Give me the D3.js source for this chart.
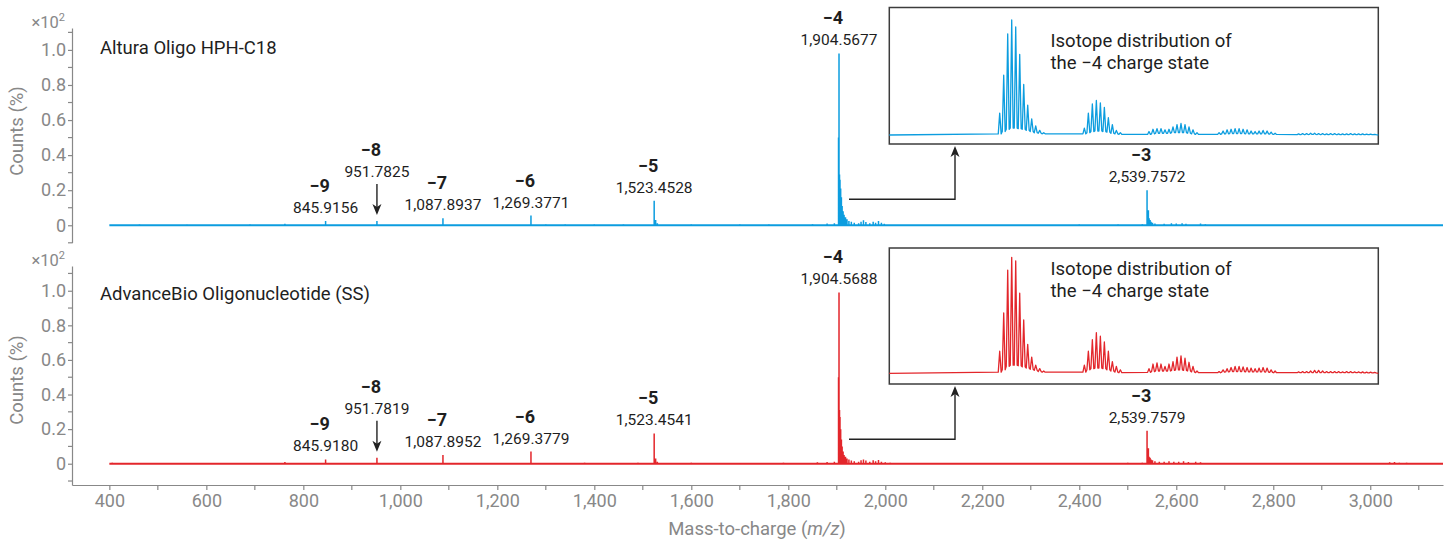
<!DOCTYPE html>
<html>
<head>
<meta charset="utf-8">
<script src="https://cdn.jsdelivr.net/npm/d3@7"></script>
<style>
  body { margin: 0; background: #fff; }
  svg { display: block; font-family: Roboto, "Noto Sans", sans-serif; }
</style>
</head>
<body>
<div id="chart"></div>
<script>
// ---- data ----
const xTicks = [400, 600, 800, 1000, 1200, 1400, 1600, 1800, 2000, 2200, 2400, 2600, 2800, 3000]
const xMinor = [500, 700, 900, 1100, 1300, 1500, 1700, 1900, 2100, 2300, 2500, 2700, 2900, 3100]
const yTicks = [0, 0.2, 0.4, 0.6, 0.8, 1.0]
const yMinor = [-0.1, 0.1, 0.3, 0.5, 0.7, 0.9, 1.1]

// [m/z, counts x10^2]
const alturaPeaks = [
  [462, 0.004], [560, 0.003], [690, 0.004], [762, 0.008], [845.92, 0.025], [951.78, 0.025],
  [1087.89, 0.04], [1269.38, 0.055], [1300, 0.004], [1340, 0.004], [1400, 0.005], [1460, 0.004],
  [1523.45, 0.14], [1526.5, 0.03], [1530, 0.012], [1600, 0.004], [1700, 0.004], [1760, 0.005],
  [1850, 0.006], [1880, 0.01], [1895, 0.012],
  [1903.6, 0.5], [1904.57, 0.98], [1905.6, 0.29], [1906.6, 0.26], [1908, 0.21], [1909.5, 0.16],
  [1911, 0.11], [1913, 0.08], [1915, 0.06], [1918, 0.045], [1921, 0.035], [1925, 0.025],
  [1930, 0.02], [1936, 0.015], [1945, 0.012], [1950, 0.02], [1955, 0.028], [1960, 0.018],
  [1968, 0.012], [1975, 0.02], [1980, 0.015], [1986, 0.024], [1992, 0.015], [1998, 0.008],
  [2400, 0.004], [2480, 0.005], [2530, 0.006],
  [2539.76, 0.2], [2541, 0.07], [2542.5, 0.085], [2544, 0.04], [2546, 0.03], [2548, 0.02],
  [2551, 0.015], [2556, 0.01], [2575, 0.008], [2590, 0.012], [2600, 0.01], [2612, 0.012],
  [2620, 0.008], [2650, 0.01], [2660, 0.006]
]
const advancePeaks = [
  [406, 0.006], [462, 0.003], [690, 0.004], [762, 0.01], [845.92, 0.025], [951.78, 0.035],
  [1087.9, 0.05], [1269.38, 0.07], [1320, 0.004], [1380, 0.005], [1440, 0.004], [1490, 0.005],
  [1523.45, 0.175], [1526.5, 0.03], [1530, 0.012], [1600, 0.005], [1700, 0.004], [1790, 0.005],
  [1860, 0.008], [1880, 0.01], [1895, 0.012],
  [1903.6, 0.5], [1904.57, 0.99], [1905.6, 0.31], [1906.6, 0.27], [1908, 0.2], [1909.5, 0.14],
  [1911, 0.1], [1913, 0.07], [1915, 0.05], [1918, 0.04], [1921, 0.03], [1925, 0.025],
  [1930, 0.018], [1936, 0.015], [1945, 0.012], [1950, 0.02], [1955, 0.025], [1960, 0.018],
  [1968, 0.012], [1975, 0.02], [1980, 0.015], [1986, 0.022], [1992, 0.012], [2000, 0.008], [2010, 0.006],
  [2420, 0.004], [2500, 0.005], [2530, 0.006],
  [2539.76, 0.19], [2541, 0.08], [2542.5, 0.09], [2544, 0.04], [2546, 0.035], [2548, 0.025],
  [2551, 0.02], [2556, 0.015], [2565, 0.012], [2575, 0.012], [2585, 0.015], [2595, 0.012],
  [2605, 0.012], [2615, 0.015], [2625, 0.01], [2640, 0.012], [2650, 0.008],
  [3040, 0.008], [3050, 0.01], [3060, 0.006], [3075, 0.005]
]

// charge state labels: [charge, m/z]
const alturaLabels = [
  ["−9", 845.9156], ["−8", 951.7825], ["−7", 1087.8937], ["−6", 1269.3771],
  ["−5", 1523.4528], ["−4", 1904.5677], ["−3", 2539.7572]
]
const advanceLabels = [
  ["−9", 845.9180], ["−8", 951.7819], ["−7", 1087.8952], ["−6", 1269.3779],
  ["−5", 1523.4541], ["−4", 1904.5688], ["−3", 2539.7579]
]

// isotope distribution of the -4 state: [m/z, peak, valley] (relative)
const alturaIso = [
  [1903.82, 0.19, 0.01], [1904.07, 0.52, 0.03], [1904.32, 0.88, 0.05], [1904.57, 1.00, 0.06],
  [1904.82, 0.94, 0.06], [1905.07, 0.70, 0.055], [1905.32, 0.44, 0.05], [1905.57, 0.26, 0.04],
  [1905.82, 0.14, 0.03], [1906.07, 0.08, 0.02], [1906.32, 0.04, 0.015], [1906.57, 0.02, 0.01],
  [1909.11, 0.06, 0.01], [1909.36, 0.19, 0.02], [1909.61, 0.27, 0.03], [1909.86, 0.30, 0.035],
  [1910.11, 0.28, 0.035], [1910.36, 0.24, 0.03], [1910.61, 0.15, 0.025], [1910.86, 0.09, 0.015],
  [1911.11, 0.04, 0.01], [1911.36, 0.02, 0.005],
  [1913.15, 0.03, 0.005], [1913.40, 0.05, 0.01], [1913.65, 0.055, 0.015], [1913.90, 0.055, 0.015],
  [1914.15, 0.045, 0.015], [1914.40, 0.05, 0.015], [1914.65, 0.07, 0.02], [1914.90, 0.09, 0.02],
  [1915.15, 0.10, 0.02], [1915.40, 0.09, 0.02], [1915.65, 0.07, 0.015], [1915.90, 0.045, 0.01],
  [1916.15, 0.02, 0.005],
  [1917.53, 0.02, 0.005], [1917.78, 0.035, 0.01], [1918.03, 0.045, 0.01], [1918.28, 0.05, 0.012],
  [1918.53, 0.055, 0.012], [1918.78, 0.055, 0.012], [1919.03, 0.05, 0.012], [1919.28, 0.045, 0.01],
  [1919.53, 0.035, 0.01], [1919.78, 0.03, 0.01], [1920.03, 0.035, 0.01], [1920.28, 0.04, 0.01],
  [1920.53, 0.035, 0.01], [1920.78, 0.025, 0.008], [1921.03, 0.015, 0.005],
  [1922.50, 0.01, 0.004], [1922.75, 0.012, 0.004], [1923.00, 0.012, 0.004], [1923.25, 0.015, 0.005],
  [1923.50, 0.015, 0.005], [1923.75, 0.012, 0.004], [1924.00, 0.012, 0.004], [1924.25, 0.01, 0.004],
  [1924.50, 0.012, 0.004], [1924.75, 0.012, 0.004], [1925.00, 0.01, 0.004], [1925.25, 0.01, 0.004],
  [1925.50, 0.01, 0.004], [1925.75, 0.012, 0.004], [1926.00, 0.01, 0.004], [1926.25, 0.01, 0.004],
  [1926.50, 0.01, 0.003], [1926.75, 0.008, 0.003], [1927.00, 0.008, 0.003], [1927.25, 0.006, 0.003]
]
const advanceIso = [
  [1903.82, 0.19, 0.01], [1904.07, 0.52, 0.03], [1904.32, 0.89, 0.06], [1904.57, 1.00, 0.07],
  [1904.82, 0.97, 0.07], [1905.07, 0.69, 0.065], [1905.32, 0.46, 0.055], [1905.57, 0.25, 0.045],
  [1905.82, 0.14, 0.035], [1906.07, 0.07, 0.025], [1906.32, 0.04, 0.015], [1906.57, 0.02, 0.01],
  [1909.11, 0.07, 0.01], [1909.36, 0.19, 0.03], [1909.61, 0.29, 0.04], [1909.86, 0.35, 0.045],
  [1910.11, 0.32, 0.045], [1910.36, 0.27, 0.04], [1910.61, 0.19, 0.03], [1910.86, 0.10, 0.02],
  [1911.11, 0.06, 0.01], [1911.36, 0.03, 0.005],
  [1913.15, 0.04, 0.008], [1913.40, 0.08, 0.015], [1913.65, 0.09, 0.02], [1913.90, 0.08, 0.02],
  [1914.15, 0.06, 0.02], [1914.40, 0.08, 0.02], [1914.65, 0.10, 0.025], [1914.90, 0.14, 0.03],
  [1915.15, 0.15, 0.03], [1915.40, 0.13, 0.025], [1915.65, 0.095, 0.02], [1915.90, 0.06, 0.012],
  [1916.15, 0.02, 0.006],
  [1917.53, 0.015, 0.005], [1917.78, 0.03, 0.01], [1918.03, 0.04, 0.012], [1918.28, 0.05, 0.015],
  [1918.53, 0.06, 0.015], [1918.78, 0.06, 0.015], [1919.03, 0.055, 0.015], [1919.28, 0.05, 0.012],
  [1919.53, 0.045, 0.012], [1919.78, 0.04, 0.012], [1920.03, 0.045, 0.012], [1920.28, 0.05, 0.012],
  [1920.53, 0.045, 0.01], [1920.78, 0.03, 0.008], [1921.03, 0.02, 0.005],
  [1922.50, 0.012, 0.005], [1922.75, 0.015, 0.005], [1923.00, 0.015, 0.005], [1923.25, 0.02, 0.006],
  [1923.50, 0.025, 0.006], [1923.75, 0.025, 0.006], [1924.00, 0.02, 0.006], [1924.25, 0.015, 0.005],
  [1924.50, 0.015, 0.005], [1924.75, 0.015, 0.005], [1925.00, 0.015, 0.005], [1925.25, 0.012, 0.005],
  [1925.50, 0.015, 0.005], [1925.75, 0.015, 0.005], [1926.00, 0.012, 0.005], [1926.25, 0.012, 0.005],
  [1926.50, 0.012, 0.004], [1926.75, 0.01, 0.004], [1927.00, 0.01, 0.004], [1927.25, 0.008, 0.004]
]

// ---- layout ----
const width = 1450, height = 542
const axisColor = "#888"
const textColor = "#1e1e1e"

const svg = d3.select("#chart").append("svg")
  .attr("width", width).attr("height", height).attr("viewBox", [0, 0, width, height])

const x = d3.scaleLinear().domain([323, 3150]).range([72, 1443])

const panels = [
  { title: "Altura Oligo HPH-C18", color: "#0c9ddf", peaks: alturaPeaks, labels: alturaLabels, iso: alturaIso,
    yDomain: [-0.1, 1.125], yRange: [242.8, 28], titleY: 53.5, labelMid: 131,
    inset: { top: 7.5, bottom: 144, base: 135, peak: 20, textY: [46.5, 68.5] } },
  { title: "AdvanceBio Oligonucleotide (SS)", color: "#e3262b", peaks: advancePeaks, labels: advanceLabels, iso: advanceIso,
    yDomain: [-0.123, 1.143], yRange: [485, 266], titleY: 299.5, labelMid: 380,
    inset: { top: 248, bottom: 384, base: 373.3, peak: 257.3, textY: [275, 296.5] } }
]

function arrowHead(sel, tx, ty, dir) {
  // dir: -1 points up, 1 points down
  const len = 11, half = 4.5
  sel.append("path")
    .attr("d", `M${tx},${ty}L${tx - half},${ty - dir * len}L${tx},${ty - dir * (len - 3)}L${tx + half},${ty - dir * len}Z`)
    .attr("fill", "#222")
}

for (const p of panels) {
  const y = d3.scaleLinear().domain(p.yDomain).range(p.yRange)
  const g = svg.append("g")

  // y axis
  const ya = g.append("g").attr("transform", "translate(72,0)")
    .call(d3.axisLeft(y).tickValues(yTicks).tickSize(4).tickSizeOuter(0)
      .tickFormat(d => d === 0 ? "0" : d3.format(".1f")(d)))
  ya.append("g").selectAll("line").data(yMinor).join("line")
    .attr("x1", -4).attr("x2", 0).attr("y1", d => y(d)).attr("y2", d => y(d))
  ya.selectAll("path, line").attr("stroke", axisColor).attr("stroke-width", 1.2)
  ya.selectAll("text").attr("fill", axisColor).attr("font-size", 18).attr("font-family", "Roboto").attr("x", -6)

  const top = p.yRange[1]
  const mult = g.append("text").attr("x", 65).attr("y", top).attr("text-anchor", "end")
    .attr("fill", axisColor).attr("font-size", 16.5)
  mult.append("tspan").text("×10")
  mult.append("tspan").attr("font-size", 11).attr("dy", -7).text("2")

  g.append("text").attr("transform", `translate(22.5,${p.labelMid}) rotate(-90)`)
    .attr("text-anchor", "middle").attr("fill", axisColor).attr("font-size", 18.5).text("Counts (%)")

  g.append("text").attr("x", 100).attr("y", p.titleY).attr("fill", textColor).attr("font-size", 18.5).text(p.title)

  // spectrum
  g.append("path").attr("d", `M${x(400)},${y(0)}H${x(3150)}`)
    .attr("stroke", p.color).attr("stroke-width", 2).attr("fill", "none")
  g.append("path")
    .attr("d", p.peaks.map(d => `M${x(d[0])},${y(0)}V${y(d[1])}`).join(""))
    .attr("stroke", p.color).attr("stroke-width", 1.5).attr("fill", "none")

  // peak labels
  for (const [z, mz] of p.labels) {
    const pk = d3.least(p.peaks, d => Math.abs(d[0] - mz))
    const px = x(mz)
    let vy = y(pk[1]) - 8
    if (z === "−8") {
      const tip = y(pk[1]) - 6
      g.append("line").attr("x1", px).attr("x2", px).attr("y1", tip - 31).attr("y2", tip - 6)
        .attr("stroke", "#222").attr("stroke-width", 1.4)
      arrowHead(g, px, tip, 1)
      vy = tip - 38
    }
    g.append("text").attr("x", px).attr("y", vy).attr("text-anchor", "middle")
      .attr("fill", textColor).attr("font-size", 15.5).text(d3.format(",.4f")(mz))
    g.append("text").attr("x", px - 6).attr("y", vy - 21).attr("text-anchor", "middle")
      .attr("fill", textColor).attr("font-size", 18).attr("font-weight", "bold").text(z)
  }

  // inset
  const ins = p.inset
  const xi = d3.scaleLinear().domain([1896.92, 1927.48]).range([889.3, 1378.3])
  const yi = d3.scaleLinear().domain([0, 1]).range([ins.base, ins.peak])
  g.append("rect").attr("x", 889.3).attr("y", ins.top).attr("width", 489).attr("height", ins.bottom - ins.top)
    .attr("fill", "#fff").attr("stroke", "#3c3c3c").attr("stroke-width", 1.5)
  const pts = [[xi.domain()[0], 0]]
  for (const [mz, h, v] of p.iso) pts.push([mz - 0.09, v], [mz, h], [mz + 0.09, v])
  pts.push([xi.domain()[1], 0])
  g.append("path").attr("d", d3.line().x(d => xi(d[0])).y(d => yi(d[1]))(pts))
    .attr("fill", "none").attr("stroke", p.color).attr("stroke-width", 1.3).attr("stroke-linejoin", "round")
  const it = g.append("text").attr("fill", textColor).attr("font-size", 18.5)
  it.append("tspan").attr("x", 1050.5).attr("y", ins.textY[0]).text("Isotope distribution of")
  it.append("tspan").attr("x", 1050.5).attr("y", ins.textY[1]).text("the −4 charge state")

  // connector from the -4 peak to the inset
  const main = p.labels.find(d => d[0] === "−4")[1]
  const cy = ins.bottom + 55.3
  const tipY = ins.bottom + 2
  g.append("path").attr("d", `M${x(main) + 10},${cy}H955V${tipY + 8}`)
    .attr("fill", "none").attr("stroke", "#222").attr("stroke-width", 1.4)
  arrowHead(g, 955, tipY, -1)
}

// x axis
const xa = svg.append("g").attr("transform", "translate(0,485)")
  .call(d3.axisBottom(x).tickValues(xTicks).tickSize(5).tickSizeOuter(0).tickFormat(d3.format(",")))
xa.append("g").selectAll("line").data(xMinor).join("line")
  .attr("x1", d => x(d)).attr("x2", d => x(d)).attr("y1", 0).attr("y2", 5)
xa.selectAll("path, line").attr("stroke", axisColor).attr("stroke-width", 1.2)
xa.selectAll("text").attr("fill", axisColor).attr("font-size", 18).attr("font-family", "Roboto")
  .attr("y", 21.5).attr("dy", 0)

const xl = svg.append("text").attr("x", 757).attr("y", 535).attr("text-anchor", "middle")
  .attr("fill", axisColor).attr("font-size", 18.5)
xl.append("tspan").text("Mass-to-charge (")
xl.append("tspan").attr("font-style", "italic").text("m/z")
xl.append("tspan").text(")")
</script>
</body>
</html>
